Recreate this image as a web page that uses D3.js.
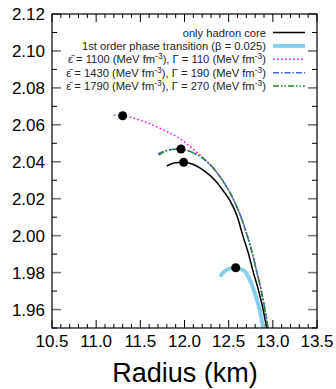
<!DOCTYPE html>
<html>
<head>
<meta charset="utf-8">
<script src="https://cdn.jsdelivr.net/npm/d3@7"></script>
<style>
  body { margin: 0; background: #fff; }
  text { font-family: "Liberation Sans", Arial, Helvetica, sans-serif; }
</style>
</head>
<body>
<div id="graph"></div>
<script>
var width = 336;
var height = 389;

// mass-radius curves, [radius km, mass]
var hadronCore = [[11.80,2.0377],[11.88,2.0393],[11.99,2.0397],[12.10,2.0385],[12.22,2.0352],[12.345,2.030],[12.45,2.0235],[12.515,2.019],[12.60,2.010],[12.66,2.000],[12.72,1.991],[12.78,1.980],[12.84,1.970],[12.89,1.960],[12.93,1.950]];
var phaseTransition = [[12.40,1.9778],[12.45,1.9806],[12.50,1.9820],[12.58,1.9826],[12.64,1.9818],[12.685,1.9806],[12.74,1.976],[12.82,1.9652],[12.86,1.958],[12.89,1.950]];
var eps1100 = [[11.20,2.0652],[11.30,2.0649],[11.50,2.0625],[11.75,2.0575],[11.97,2.0518],[12.10,2.0468],[12.25,2.0403],[12.40,2.032],[12.55,2.020],[12.64,2.010],[12.71,2.000],[12.77,1.990],[12.82,1.980],[12.87,1.970],[12.91,1.960],[12.945,1.950]];
var eps1430 = [[11.70,2.0442],[11.80,2.0462],[11.96,2.0469],[12.10,2.0448],[12.25,2.0403],[12.40,2.032],[12.55,2.020],[12.64,2.010],[12.71,2.000],[12.77,1.990],[12.82,1.980],[12.87,1.970],[12.91,1.960],[12.945,1.950]];
var eps1790 = [[11.71,2.0436],[11.80,2.0460],[11.96,2.0469],[12.10,2.0448],[12.25,2.0403],[12.40,2.032],[12.55,2.020],[12.64,2.010],[12.71,2.000],[12.77,1.990],[12.82,1.980],[12.87,1.970],[12.91,1.960],[12.945,1.950]];
var maxPoints = [[11.99,2.0397],[11.96,2.0469],[11.30,2.0649],[12.58,1.9826]];

var xTicks = [10.5, 11.0, 11.5, 12.0, 12.5, 13.0, 13.5];
var yTicks = [1.96, 1.98, 2.00, 2.02, 2.04, 2.06, 2.08, 2.10, 2.12];

var legendNames = ["only hadron core", "1st order phase transition (β = 0.025)", "1100|110", "1430|190", "1790|270"];

var padL = 52, padR = 317, padT = 14, padB = 328;

var svg = d3.select("#graph").append("svg")
    .attr("width", width)
    .attr("height", height);

var x = d3.scaleLinear().domain([10.5, 13.5]).range([padL, padR]);
var y = d3.scaleLinear().domain([1.95, 2.12]).range([padB, padT]);

svg.append("defs").append("clipPath").attr("id", "plotclip")
    .append("rect").attr("x", padL).attr("y", padT)
    .attr("width", padR - padL).attr("height", padB - padT);

// minor ticks
var xMinor = d3.range(105, 136).map(function(d) { return d / 10; });
var yMinor = d3.range(195, 213).map(function(d) { return d / 100; });

var tickG = svg.append("g");
xMinor.forEach(function(v) {
  var major = Math.abs(v * 2 - Math.round(v * 2)) < 1e-6;
  var len = major ? 8 : 4;
  tickG.append("line").attr("x1", x(v)).attr("x2", x(v)).attr("y1", padB).attr("y2", padB - len)
      .attr("stroke", "#000").attr("stroke-width", 1);
  tickG.append("line").attr("x1", x(v)).attr("x2", x(v)).attr("y1", padT).attr("y2", padT + len)
      .attr("stroke", "#000").attr("stroke-width", 1);
});
yMinor.forEach(function(v) {
  var major = Math.round(v * 100) % 2 === 0;
  var len = major ? 9 : 5;
  var col = major ? "#777" : "#000";
  var sw = major ? 1.6 : 1;
  tickG.append("line").attr("x1", padL).attr("x2", padL + len).attr("y1", y(v)).attr("y2", y(v))
      .attr("stroke", col).attr("stroke-width", sw);
  tickG.append("line").attr("x1", padR).attr("x2", padR - len).attr("y1", y(v)).attr("y2", y(v))
      .attr("stroke", col).attr("stroke-width", sw);
});

// tick labels
svg.append("g").selectAll("text").data(xTicks).enter().append("text")
    .attr("x", function(d) { return x(d); })
    .attr("y", 347)
    .attr("text-anchor", "middle")
    .attr("font-size", 17)
    .text(function(d) { return d3.format(".1f")(d); });

svg.append("g").selectAll("text").data(yTicks).enter().append("text")
    .attr("x", 45)
    .attr("y", function(d) { return y(d) + 6; })
    .attr("text-anchor", "end")
    .attr("font-size", 17)
    .text(function(d) { return d3.format(".2f")(d); });

svg.append("text")
    .attr("x", (padL + padR) / 2 + 0.5)
    .attr("y", 382)
    .attr("text-anchor", "middle")
    .attr("font-size", 27)
    .text("Radius (km)");

// curves
var line = d3.line()
    .x(function(d) { return x(d[0]); })
    .y(function(d) { return y(d[1]); })
    .curve(d3.curveMonotoneX);

var styles = [
  {data: phaseTransition, color: "#87ceeb", width: 4, dash: null},
  {data: hadronCore, color: "#000", width: 1.5, dash: null},
  {data: eps1100, color: "#ff00ff", width: 1.5, dash: "1.5,2.5"},
  {data: eps1430, color: "#4169e1", width: 1.5, dash: "6,2,1.5,2"},
  {data: eps1790, color: "#228b22", width: 1.5, dash: "6,2,1.5,2,1.5,2"}
];

var plot = svg.append("g").attr("clip-path", "url(#plotclip)");
styles.forEach(function(s) {
  plot.append("path")
      .attr("d", line(s.data))
      .attr("fill", "none")
      .attr("stroke", s.color)
      .attr("stroke-width", s.width)
      .attr("stroke-dasharray", s.dash);
});

plot.selectAll("circle").data(maxPoints).enter().append("circle")
    .attr("cx", function(d) { return x(d[0]); })
    .attr("cy", function(d) { return y(d[1]); })
    .attr("r", 4.5)
    .attr("fill", "#000");

// legend
var legendOrder = [1, 0, 2, 3, 4];
var leg = svg.append("g");
legendNames.forEach(function(name, i) {
  var s = styles[legendOrder[i]];
  var ly = 32.5 + i * 13.4;
  leg.append("line").attr("x1", 273).attr("x2", 305).attr("y1", ly).attr("y2", ly)
      .attr("stroke", s.color).attr("stroke-width", s.width).attr("stroke-dasharray", s.dash);
  var t = leg.append("text").attr("x", 266).attr("y", ly + 4).attr("text-anchor", "end")
      .attr("font-size", 11.2).attr("fill", "#222");
  if (name.indexOf("|") < 0) {
    t.text(name);
  } else {
    var parts = name.split("|");
    t.append("tspan").text("\u03b5\u0304 = " + parts[0] + " (MeV fm");
    t.append("tspan").attr("dy", -4).attr("font-size", 8.5).text("-3");
    t.append("tspan").attr("dy", 4).text("), \u0393 = " + parts[1] + " (MeV fm");
    t.append("tspan").attr("dy", -4).attr("font-size", 8.5).text("-3");
    t.append("tspan").attr("dy", 4).text(")");
  }
});

// frame
svg.append("rect")
    .attr("x", padL).attr("y", padT)
    .attr("width", padR - padL).attr("height", padB - padT)
    .attr("fill", "none").attr("stroke", "#000").attr("stroke-width", 1.2);
</script>
</body>
</html>
